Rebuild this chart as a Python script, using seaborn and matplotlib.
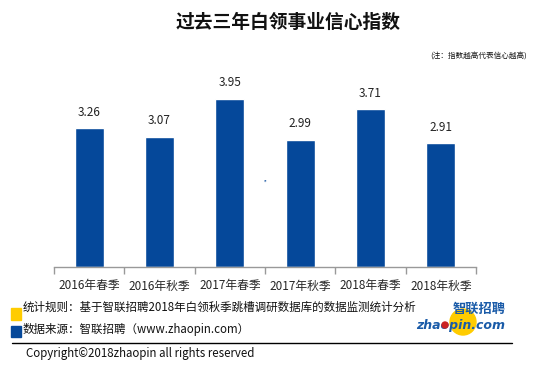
import matplotlib
matplotlib.use("Agg")
import matplotlib.pyplot as plt
import seaborn as sns
import pandas as pd
from matplotlib.patches import Rectangle, Circle

categories = ["2016年春季", "2016年秋季", "2017年春季", "2017年秋季", "2018年春季", "2018年秋季"]
values = [3.26, 3.07, 3.95, 2.99, 3.71, 2.91]

title = "过去三年白领事业信心指数"
note = "(注：指数越高代表信心越高)"
rule_text = "统计规则：基于智联招聘2018年白领秋季跳槽调研数据库的数据监测统计分析"
source_text = "数据来源：智联招聘（www.zhaopin.com）"
copyright_text = "Copyright©2018zhaopin all rights reserved"

BLUE = "#05489A"
YELLOW = "#FFCC00"
W, H = 550, 371

sns.set_style("white")
plt.rcParams['font.family'] = ['Noto Sans CJK SC', 'DejaVu Sans']


def fx(x):
    return x / W


def fy(y):
    return 1 - y / H


df = pd.DataFrame({"period": categories, "index": values})

fig = plt.figure(figsize=(5.5, 3.71), dpi=100)
ax = fig.add_axes([fx(54), fy(267), (476 - 54) / W, (267 - 80) / H])

sns.barplot(data=df, x="period", y="index", color=BLUE, width=0.41,
            saturation=1, ax=ax)
for c in ax.containers:
    ax.bar_label(c, labels=[f"{v:.2f}" for v in values], padding=7,
                 fontsize=8.5, color="#222222")

ax.set_xlim(-0.5, len(categories) - 0.5)
ax.set_ylim(0, 187 / 42.5)
ax.set_xlabel("")
ax.set_ylabel("")
ax.set_yticks([])
for s in ["top", "left", "right"]:
    ax.spines[s].set_visible(False)
ax.spines["bottom"].set_color("#999999")
ax.spines["bottom"].set_linewidth(1)

# boundary ticks as major, labels on minor ticks
ax.set_xticks([i - 0.5 for i in range(len(categories) + 1)])
ax.set_xticklabels([])
ax.set_xticks(range(len(categories)), minor=True)
ax.set_xticklabels(categories, minor=True, fontsize=8.5)
ax.tick_params(axis="x", which="major", length=5, color="#999999", width=1,
               direction="out", bottom=True)
ax.tick_params(axis="x", which="minor", length=0, pad=9)

# small stray mark in the plot area
fig.text(fx(265), fy(184), "''", fontsize=5, color=BLUE, ha="center", va="center")

fig.text(fx(288), fy(22), title, fontsize=13.5, fontweight="bold",
         ha="center", va="center", color="#111111")
fig.text(fx(527), fy(57), note, fontsize=5.5, ha="right", va="center",
         color="#111111")

# footer
fig.patches.append(Rectangle((fx(11), fy(320)), 10 / W, 12 / H,
                             transform=fig.transFigure, color=YELLOW, figure=fig))
fig.patches.append(Rectangle((fx(11), fy(337)), 10 / W, 11 / H,
                             transform=fig.transFigure, color=BLUE, figure=fig))
fig.text(fx(23), fy(307), rule_text, fontsize=8.3, ha="left", va="center",
         color="#111111")
fig.text(fx(23), fy(330), source_text, fontsize=8.3, ha="left", va="center",
         color="#111111")
fig.add_artist(plt.Line2D([fx(12), fx(512)], [fy(343), fy(343)],
                          transform=fig.transFigure, color="black", lw=1))
fig.text(fx(26), fy(354), copyright_text, fontsize=8.3, ha="left", va="center",
         color="#111111")

# logo
logo_ax = fig.add_axes([fx(410), fy(340), 100 / W, 40 / H])
logo_ax.set_xlim(410, 510)
logo_ax.set_ylim(340, 300)
logo_ax.set_aspect("equal")
logo_ax.axis("off")
logo_ax.add_patch(Circle((463, 322), 13, color=YELLOW, zorder=0))
logo_ax.text(506, 309, "智联招聘", fontsize=9.5, fontweight="bold", style="italic",
             color="#1A5BA8", ha="right", va="center", zorder=2)
logo_ax.text(505, 325, "zhaopin.com", fontsize=9, fontweight="bold",
             style="italic", color="#1A5BA8", ha="right", va="center",
             family="DejaVu Sans", zorder=2)
logo_ax.add_patch(Circle((445, 325), 3, color="#CC2222", zorder=3))

fig.savefig("out.png", dpi=100)
